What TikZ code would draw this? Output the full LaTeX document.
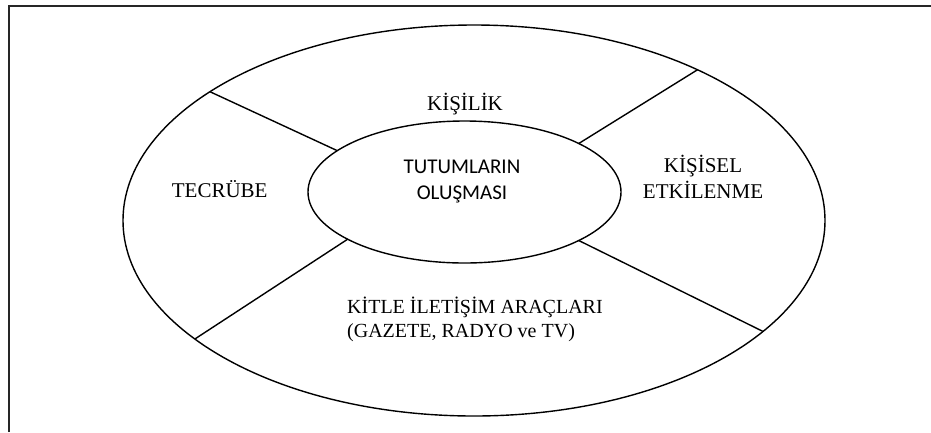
\documentclass[tikz,border=0pt]{standalone}
\usepackage{fontspec}
\setmainfont{Liberation Serif}
\newfontfamily\calibrifont{Carlito}
\usetikzlibrary{shapes.geometric}

\begin{document}
\begin{tikzpicture}[
    x=1pt, y=-1pt,
    ring/.style={ellipse, draw, line width=1.4pt, inner sep=0pt, outer sep=0pt},
    spoke/.style={line width=1.4pt},
    ringtext/.style={font=\fontsize{21}{26}\selectfont, inner sep=0pt, align=center, anchor=base}
]
\useasboundingbox (0,0) rectangle (931,432);

% Frame
\draw[line width=2pt, black!85] (8.5,432) -- (8.5,6) -- (931,6);

% Rings
\node[ring, minimum width=702, minimum height=391] (outer) at (474,220.5) {};
\node[ring, minimum width=313, minimum height=142] (core) at (464.5,192) {};

% Spokes
\draw[spoke] (core.162) -- (outer.154);
\draw[spoke] (core.23) -- (outer.34);
\draw[spoke] (core.202) -- (outer.203);
\draw[spoke] (core.337) -- (outer.339.5);

% Labels (base = last line)
\node[ringtext] (kisilik) at (465,110.5) {KİŞİLİK};
\node[ringtext] (tecrube) at (219.7,197.3) {TECRÜBE};
\node[ringtext] (kisisel) at (703,198.3) {KİŞİSEL\\ETKİLENME};
\node[ringtext, font=\calibrifont\fontsize{21}{26}\selectfont] (tutum) at (462,199.3) {TUTUMLARIN\\OLUŞMASI};
\node[ringtext, anchor=base west, align=left, font=\fontsize{20}{24}\selectfont] (kitle) at (347,337.3) {KİTLE İLETİŞİM ARAÇLARI\\(GAZETE, RADYO ve TV)};

\end{tikzpicture}
\end{document}
